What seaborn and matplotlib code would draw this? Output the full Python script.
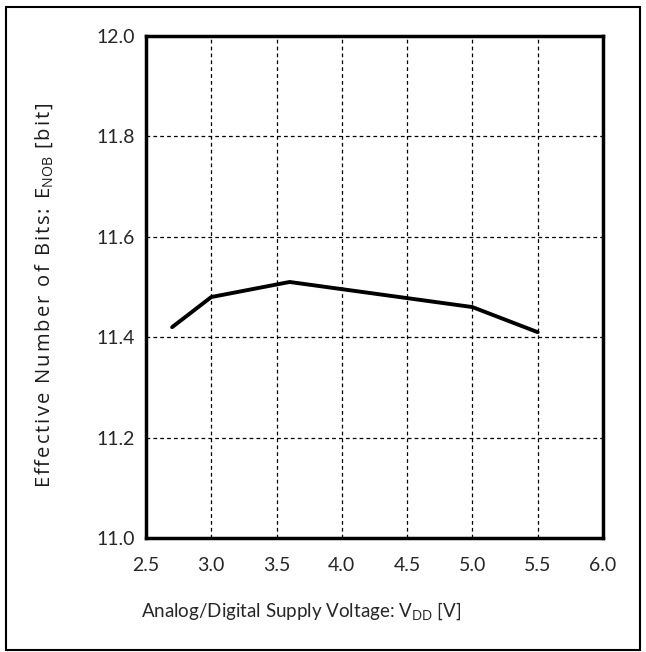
import matplotlib
matplotlib.use("Agg")
import matplotlib.pyplot as plt
import seaborn as sns
import pandas as pd
from matplotlib.patches import Rectangle

voltage = [2.7, 3.0, 3.6, 5.0, 5.5]
enob = [11.42, 11.48, 11.51, 11.46, 11.41]
x_ticks = [2.5, 3.0, 3.5, 4.0, 4.5, 5.0, 5.5, 6.0]
y_ticks = [11.0, 11.2, 11.4, 11.6, 11.8, 12.0]

sns.set_theme(style="white")
plt.rcParams['font.family'] = ['Lato', 'DejaVu Sans']
plt.rcParams['mathtext.fontset'] = 'custom'
plt.rcParams['mathtext.rm'] = 'Open Sans'
plt.rcParams['mathtext.it'] = 'Open Sans'

df = pd.DataFrame({"v": voltage, "e": enob})

fig = plt.figure(figsize=(6.46, 6.52), dpi=100)
ax = fig.add_axes([146/646, 1-538/652, (603-146)/646, (538-36)/652])
sns.lineplot(data=df, x="v", y="e", ax=ax, color="black", linewidth=2.8)

ax.set_xlim(2.5, 6.0)
ax.set_ylim(11.0, 12.0)
ax.set_xticks(x_ticks)
ax.set_yticks(y_ticks)
ax.set_xticklabels([f"{t:.1f}" for t in x_ticks])
ax.set_yticklabels([f"{t:.1f}" for t in y_ticks])
ax.tick_params(axis='both', length=0, labelsize=14, colors='#262626', pad=8)
ax.tick_params(axis='x', pad=14)
ax.grid(True, color='black', linestyle=(0, (3, 2.5)), linewidth=0.9)
for s in ax.spines.values():
    s.set_visible(True)
    s.set_color('black')
    s.set_linewidth(2.5)

ax.set_xlabel(r"Analog/Digital Supply Voltage: V$_{\mathregular{DD}}$ [V]", fontsize=13.5, color='#262626')
ax.xaxis.set_label_coords((301-146)/457, -(600-538)/502)

hs = "\u200a"
part1 = hs.join("Effective Number of Bits: E")
part3 = hs.join(" [bit]")
ylab = part1 + r"$_{\mathregular{NOB}}$" + part3
ax.set_ylabel(ylab, fontsize=14.5, color='#1a1a1a',
              family=['Open Sans', 'DejaVu Sans'], fontweight='medium')
ax.yaxis.set_label_coords(-(146-55)/457, (538-295)/502)

fig.patches.append(Rectangle((6/646, 2/652), 634/646, 643/652, transform=fig.transFigure,
                             fill=False, edgecolor='black', linewidth=1.5))

fig.savefig("out.png", dpi=100)
